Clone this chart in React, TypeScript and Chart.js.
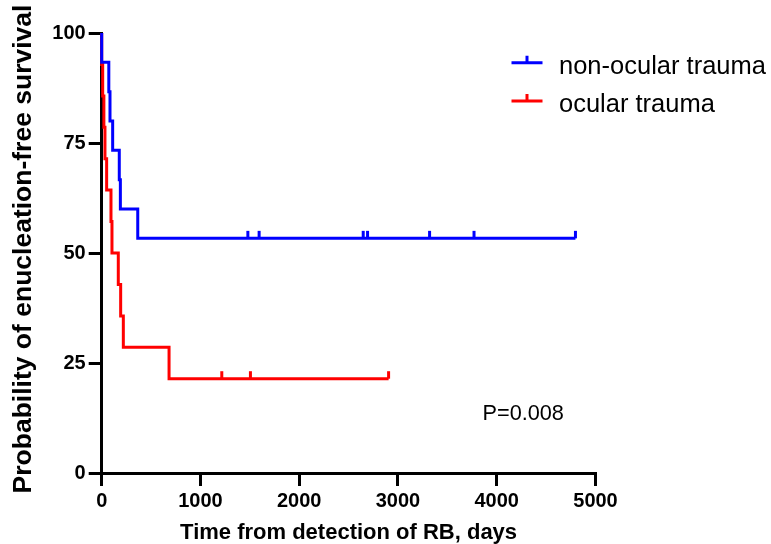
import { useEffect, useRef } from 'react';
import { Chart, registerables } from 'chart.js';

Chart.register(...registerables);

// Kaplan–Meier step points (time in days, survival in %)
const nonOcularTimes = [0, 0, 72, 84, 111, 178, 189, 365, 4797];
const nonOcularSurvival = [100, 93.33, 86.67, 80, 73.33, 66.67, 60, 53.33, 53.33];
const nonOcularCensorTimes = [1480, 1594, 2648, 2692, 3320, 3770, 4797];
const nonOcularCensorSurvival = [53.33, 53.33, 53.33, 53.33, 53.33, 53.33, 53.33];

const ocularTimes = [0, 0, 10, 22, 33, 50, 94, 104, 168, 192, 219, 682, 2905];
const ocularSurvival = [100, 92.86, 85.71, 78.57, 71.43, 64.29, 57.14, 50, 42.86, 35.71, 28.57, 21.43, 21.43];
const ocularCensorTimes = [1216, 1506, 2905];
const ocularCensorSurvival = [21.43, 21.43, 21.43];

const seriesLabels = ['non-ocular trauma', 'ocular trauma'];
const seriesColors = ['#0000ff', '#ff0000'];
const xTickValues = [0, 1000, 2000, 3000, 4000, 5000];
const yTickValues = [0, 25, 50, 75, 100];
const pValueText = 'P=0.008';
const xTitle = 'Time from detection of RB, days';
const yTitle = 'Probability of enucleation-free survival';

const FONT = "'Liberation Sans', Arial, Helvetica, sans-serif";

const toPoints = (xs: number[], ys: number[]) => xs.map((x, i) => ({ x, y: ys[i] }));

const overlayPlugin = {
  id: 'overlay',
  afterDraw(chart: any) {
    const ctx = chart.ctx as CanvasRenderingContext2D;
    ctx.save();
    // legend
    const rows = [62.7, 101];
    seriesLabels.forEach((label, i) => {
      const y = rows[i];
      ctx.strokeStyle = seriesColors[i];
      ctx.lineWidth = 3;
      ctx.beginPath();
      ctx.moveTo(511.5, y);
      ctx.lineTo(542.5, y);
      ctx.moveTo(527, y);
      ctx.lineTo(527, y - 7);
      ctx.stroke();
      ctx.fillStyle = '#000';
      ctx.font = `25.5px ${FONT}`;
      ctx.textAlign = 'left';
      ctx.textBaseline = 'alphabetic';
      ctx.fillText(label, 559, y + 11);
    });
    // p-value
    ctx.font = `21.7px ${FONT}`;
    ctx.fillStyle = '#000';
    ctx.fillText(pValueText, 482.5, 420);
    // y-axis title
    ctx.translate(23.5, 249);
    ctx.rotate(-Math.PI / 2);
    ctx.font = `bold 26.5px ${FONT}`;
    ctx.textAlign = 'center';
    ctx.textBaseline = 'middle';
    ctx.fillText(yTitle, 0, 0);
    ctx.restore();
  },
};

export default function App() {
  const canvasRef = useRef<HTMLCanvasElement | null>(null);

  useEffect(() => {
    if (!canvasRef.current) return;
    const lineCommon = {
      showLine: true,
      stepped: 'before' as const,
      borderWidth: 3,
      pointRadius: 0,
      fill: false,
      clip: false as const,
    };
    const censorCommon = {
      showLine: false,
      pointStyle: 'dash' as const,
      rotation: -90,
      pointRadius: 7.5,
      pointBorderWidth: 3,
      clip: false as const,
    };
    const chart = new Chart(canvasRef.current, {
      type: 'scatter',
      data: {
        datasets: [
          {
            ...lineCommon,
            label: seriesLabels[0],
            data: toPoints(nonOcularTimes, nonOcularSurvival),
            borderColor: seriesColors[0],
            backgroundColor: seriesColors[0],
          },
          {
            ...censorCommon,
            label: seriesLabels[0] + ' censored',
            data: toPoints(nonOcularCensorTimes, nonOcularCensorSurvival),
            borderColor: seriesColors[0],
            backgroundColor: seriesColors[0],
          },
          {
            ...lineCommon,
            label: seriesLabels[1],
            data: toPoints(ocularTimes, ocularSurvival),
            borderColor: seriesColors[1],
            backgroundColor: seriesColors[1],
          },
          {
            ...censorCommon,
            label: seriesLabels[1] + ' censored',
            data: toPoints(ocularCensorTimes, ocularCensorSurvival),
            borderColor: seriesColors[1],
            backgroundColor: seriesColors[1],
          },
        ],
      },
      options: {
        animation: false,
        responsive: false,
        maintainAspectRatio: false,
        layout: { padding: { top: 33, right: 175.5, left: 0, bottom: 0 } },
        plugins: {
          legend: { display: false },
          tooltip: { enabled: false },
        },
        scales: {
          x: {
            type: 'linear',
            min: 0,
            max: 5000,
            afterFit: (scale: any) => {
              scale.height = 71;
            },
            afterBuildTicks: (scale: any) => {
              scale.ticks = xTickValues.map((v) => ({ value: v }));
            },
            ticks: {
              color: '#000',
              font: { family: FONT, size: 20, weight: 'bold' },
              padding: 3,
              maxRotation: 0,
              autoSkip: false,
              callback: (v: any) => String(v),
            },
            grid: {
              display: true,
              drawOnChartArea: false,
              drawTicks: true,
              tickLength: 13,
              tickWidth: 3,
              tickColor: '#000',
              color: '#000',
              lineWidth: 3,
            },
            border: { display: true, color: '#000', width: 3 },
            title: {
              display: true,
              text: xTitle,
              color: '#000',
              font: { family: FONT, size: 22, weight: 'bold', lineHeight: 1 },
              padding: { top: 0, bottom: 0 },
            },
          },
          y: {
            type: 'linear',
            min: 0,
            max: 100,
            afterFit: (scale: any) => {
              scale.width = 101.7;
            },
            afterBuildTicks: (scale: any) => {
              scale.ticks = yTickValues.map((v) => ({ value: v }));
            },
            ticks: {
              color: '#000',
              font: { family: FONT, size: 20, weight: 'bold' },
              padding: 3,
              autoSkip: false,
              callback: (v: any) => String(v),
            },
            grid: {
              display: true,
              drawOnChartArea: false,
              drawTicks: true,
              tickLength: 13,
              tickWidth: 3,
              tickColor: '#000',
              color: '#000',
              lineWidth: 3,
            },
            border: { display: true, color: '#000', width: 3 },
            title: { display: false },
          },
        },
      },
      plugins: [overlayPlugin],
    } as any);
    return () => chart.destroy();
  }, []);

  return (
    <div style={{ position: 'fixed', left: 0, top: 0, width: 771, height: 544, background: '#fff' }}>
      <canvas ref={canvasRef} width={771} height={544} style={{ width: 771, height: 544, display: 'block' }} />
    </div>
  );
}
